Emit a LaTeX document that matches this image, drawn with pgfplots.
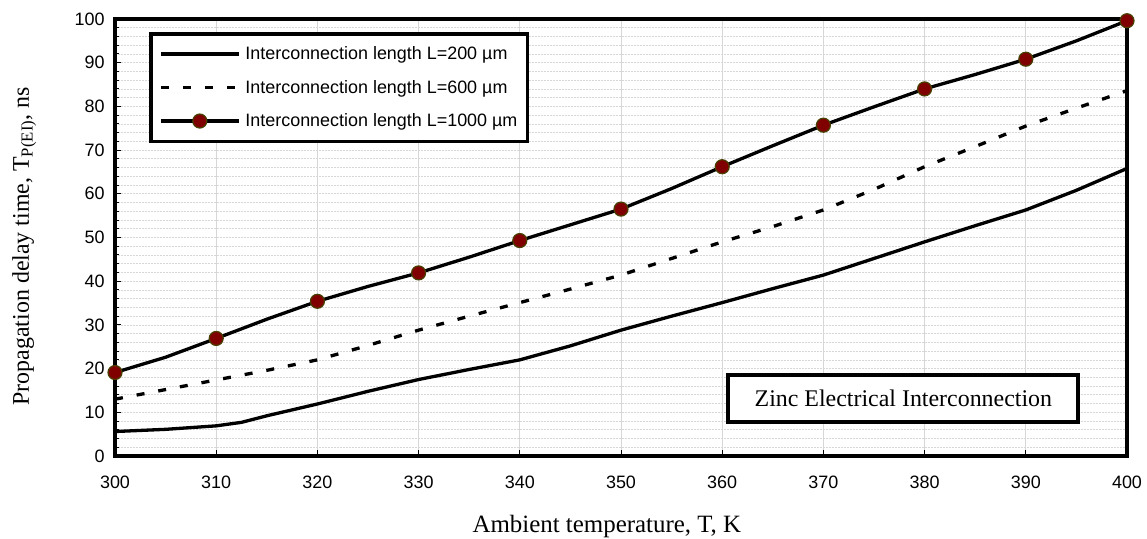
\documentclass[border=0pt]{standalone}
\usepackage{pgfplots}
\pgfplotsset{compat=1.18}
\usepackage{fontspec}
\setmainfont{Liberation Sans}
\newfontfamily\serifrm{Liberation Serif}

\definecolor{markfill}{RGB}{128,0,0}
\definecolor{markedge}{RGB}{72,64,0}
\definecolor{gridgray}{RGB}{215,215,215}

\begin{document}
\begin{tikzpicture}
\path[use as bounding box] (0,0) rectangle (1147bp,539bp);
\begin{axis}[
  at={(115bp,83bp)}, anchor=south west,
  scale only axis, width=1012bp, height=437bp,
  xmin=300, xmax=400, ymin=0, ymax=100,
  xtick={300,310,...,400}, ytick={0,10,...,100},
  minor y tick num=4,
  xtick pos=left, ytick pos=left,
  tick align=inside,
  major tick length=6bp, minor tick length=4bp,
  tick style={black, line width=1bp},
  axis line style={line width=4.5bp},
  xmajorgrids=true, ymajorgrids=true, yminorgrids=true,
  major grid style={gridgray, line width=0.7bp},
  minor grid style={gridgray, line width=0.7bp, dash pattern=on 2bp off 1bp},
  y grid style={dash pattern=on 2bp off 1bp},
  /pgf/number format/assume math mode=true,
  tick label style={font=\fontsize{18}{20}\selectfont},
  yticklabel style={xshift=-7bp},
  xticklabel style={yshift=-16bp},
  clip=false,
  every axis x label/.style={at={(axis description cs:0.486,-0.176)}, anchor=base},
  every axis y label/.style={at={(axis description cs:-0.085,0.48)}, anchor=base, rotate=90},
  xlabel={\serifrm\fontsize{25}{28}\selectfont Ambient temperature, T, K},
  ylabel={\serifrm\fontsize{24}{28}\selectfont Propagation delay time, T\textsubscript{P(EI)}, ns},
  legend image code/.code={\draw[mark repeat=2,mark phase=2,#1] plot coordinates {(0bp,0bp) (39bp,0bp) (78bp,0bp)};},
  legend style={at={(axis description cs:0.034,0.97)}, anchor=north west,
    draw=black, line width=3.5bp, fill=white,
    font=\fontsize{18}{20}\selectfont,
    inner xsep=8bp, inner ysep=11bp, row sep=15bp,
    /tikz/every odd column/.append style={column sep=3bp}},
  legend cell align=left,
]
% L = 200 um
\addplot[black, line width=3.3bp] coordinates {
  (300,5.6) (305,6.1) (310,6.9) (312.5,7.7) (315,9.2) (320,11.9) (325,14.8)
  (330,17.5) (335,19.8) (340,22.0) (345,25.2) (350,28.8) (355,32.0) (360,35.1)
  (365,38.3) (370,41.4) (375,45.2) (380,49.0) (385,52.7) (390,56.3) (395,60.8) (400,65.8)
};
\addlegendentry{Interconnection length L=200 µm}
% L = 600 um
\addplot[black, line width=3.3bp, dash pattern=on 8bp off 14bp] coordinates {
  (300,13.0) (305,15.2) (310,17.4) (315,19.6) (320,22.0) (325,25.3) (330,28.8)
  (335,32.0) (340,35.1) (345,38.2) (350,41.4) (355,45.2) (360,49.0) (365,52.5)
  (370,56.3) (375,61.0) (380,66.2) (385,70.8) (390,75.5) (395,79.6) (400,83.6)
};
\addlegendentry{Interconnection length L=600 µm}
% L = 1000 um
\addplot[black, line width=3.3bp, mark=*, mark repeat=2, mark size=7bp,
  mark options={solid, fill=markfill, draw=markedge, line width=1.2bp}] coordinates {
  (300,19.1) (305,22.6) (310,26.9) (315,31.3) (320,35.4) (325,38.8) (330,41.9)
  (335,45.5) (340,49.3) (345,52.9) (350,56.5) (355,61.2) (360,66.2) (365,71.0)
  (370,75.7) (375,79.9) (380,84.0) (385,87.3) (390,90.8) (395,95.0) (400,99.6)
};
\addlegendentry{Interconnection length L=1000 µm}

\node[draw=black, line width=4bp, fill=white, minimum width=350bp, minimum height=47bp,
  inner sep=0pt, font=\serifrm\fontsize{24}{28}\selectfont]
  at (axis cs:377.9,13.2) {Zinc Electrical Interconnection};
\end{axis}
\end{tikzpicture}
\end{document}
